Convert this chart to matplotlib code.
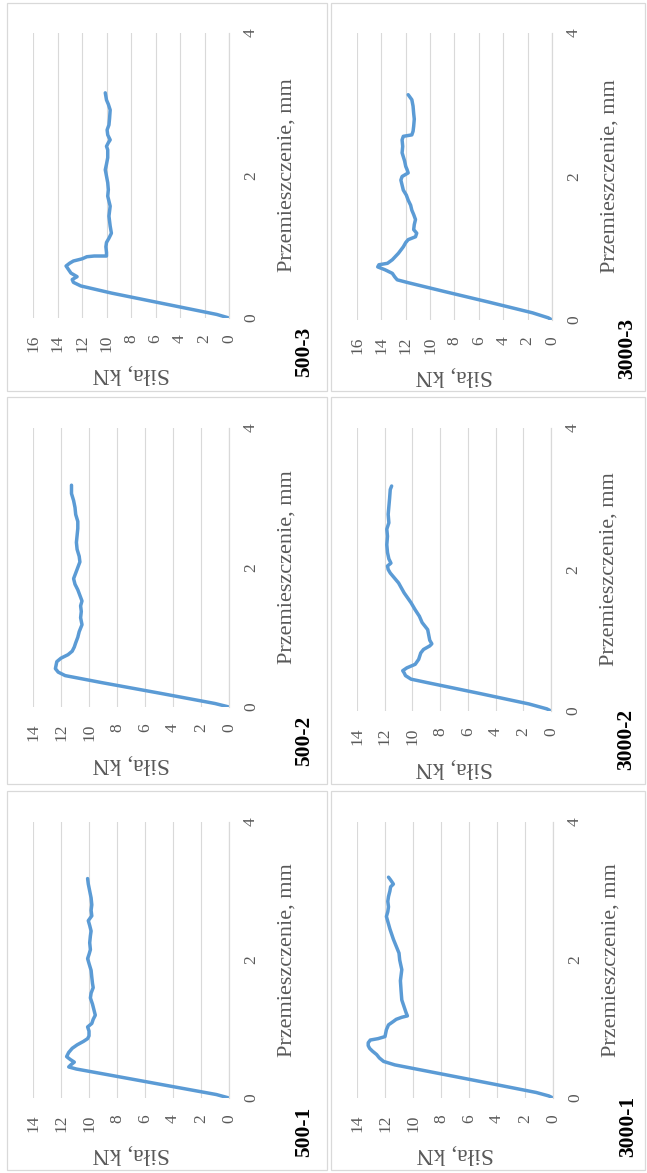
import matplotlib
matplotlib.use("Agg")
import matplotlib.pyplot as plt
from matplotlib.patches import Rectangle

plt.rcParams["font.family"] = ["Liberation Serif", "DejaVu Serif"]

W, H = 647, 1173

# sample names
names = ["500-1", "500-2", "500-3", "3000-1", "3000-2", "3000-3"]
force_max = [14, 14, 16, 14, 14, 16]

# displacement (mm) and force (kN)
disp_500_1 = [0, 0.05, 0.15, 0.25, 0.35, 0.42, 0.45, 0.48, 0.52, 0.56, 0.6, 0.66, 0.72, 0.77, 0.82, 0.86,
              0.9, 0.97, 1.03, 1.08, 1.14, 1.2, 1.28, 1.36, 1.45, 1.52, 1.6, 1.66, 1.75, 1.85, 1.95, 2.02,
              2.08, 2.15, 2.25, 2.35, 2.42, 2.5, 2.57, 2.64, 2.72, 2.8, 2.9, 3.0, 3.1, 3.18]
force_500_1 = [0, 0.9, 3.6, 6.3, 9.0, 10.9, 11.45, 11.3, 11.05, 11.35, 11.6, 11.45, 11.2, 10.85, 10.4, 10.1,
               10.0, 10.0, 10.1, 9.8, 9.7, 9.55, 9.65, 9.75, 9.9, 9.85, 9.7, 9.75, 9.8, 9.85, 10.0, 10.1,
               10.0, 9.9, 9.95, 9.9, 9.85, 9.95, 10.05, 9.8, 9.85, 9.8, 9.85, 9.95, 10.05, 10.1]

disp_500_2 = [0, 0.05, 0.2, 0.35, 0.45, 0.5, 0.55, 0.6, 0.65, 0.7, 0.75, 0.8, 0.86, 0.92, 1.0, 1.08, 1.18,
              1.28, 1.37, 1.45, 1.52, 1.6, 1.68, 1.76, 1.84, 1.92, 2.0, 2.08, 2.16, 2.26, 2.36, 2.46, 2.56,
              2.66, 2.76, 2.86, 2.96, 3.06, 3.18]
force_500_2 = [0, 1.0, 5.0, 9.1, 11.7, 12.2, 12.4, 12.35, 12.3, 12.0, 11.5, 11.2, 11.05, 10.95, 10.8, 10.7,
               10.5, 10.6, 10.55, 10.6, 10.5, 10.65, 10.8, 11.0, 11.1, 10.95, 10.8, 10.65, 10.7, 10.85, 10.9,
               10.85, 10.8, 10.8, 10.95, 11.0, 11.1, 11.25, 11.25]

disp_500_3 = [0, 0.05, 0.2, 0.35, 0.45, 0.5, 0.54, 0.58, 0.63, 0.68, 0.73, 0.77, 0.8, 0.83, 0.86, 0.87,
              0.87, 0.92, 1.0, 1.06, 1.12, 1.19, 1.29, 1.36, 1.43, 1.5, 1.57, 1.64, 1.71, 1.8, 1.9, 1.99,
              2.08, 2.16, 2.25, 2.36, 2.41, 2.46, 2.5, 2.57, 2.64, 2.71, 2.8, 2.92, 3.0, 3.06, 3.16]
force_500_3 = [0, 1.0, 5.3, 9.6, 12.1, 12.7, 12.8, 12.4, 12.9, 13.1, 13.3, 13.0, 12.7, 12.0, 11.6, 11.0,
               10.0, 10.0, 10.05, 10.0, 9.8, 9.6, 9.7, 9.75, 9.8, 9.75, 9.7, 9.8, 9.9, 9.85, 9.9, 10.0,
               10.1, 10.0, 9.9, 9.9, 10.0, 9.85, 9.7, 9.9, 9.95, 9.8, 9.75, 9.7, 9.85, 10.0, 10.1]

disp_3000_1 = [0, 0.03, 0.08, 0.2, 0.35, 0.48, 0.53, 0.58, 0.63, 0.68, 0.72, 0.76, 0.8, 0.84, 0.86, 0.89,
               0.94, 0.99, 1.06, 1.11, 1.14, 1.17, 1.19, 1.24, 1.3, 1.42, 1.55, 1.7, 1.86, 2.0, 2.1, 2.2,
               2.3, 2.45, 2.63, 2.7, 2.77, 2.85, 2.92, 3.0, 3.06, 3.1, 3.16, 3.2]
force_3000_1 = [0, 0.3, 1.2, 4.2, 8.0, 11.3, 12.1, 12.4, 12.6, 12.9, 13.1, 13.2, 13.2, 13.05, 12.5, 12.0,
                11.95, 11.9, 11.75, 11.4, 11.2, 10.8, 10.4, 10.5, 10.6, 10.8, 10.85, 10.9, 10.8, 10.95, 11.0,
                11.2, 11.4, 11.65, 11.9, 11.8, 11.75, 11.8, 11.75, 11.65, 11.6, 11.4, 11.6, 11.75]

disp_3000_2 = [0, 0.03, 0.1, 0.25, 0.4, 0.45, 0.5, 0.54, 0.57, 0.61, 0.66, 0.73, 0.82, 0.87, 0.92, 0.95,
               1.0, 1.05, 1.15, 1.25, 1.34, 1.43, 1.53, 1.6, 1.67, 1.74, 1.81, 1.88, 1.95, 2.0, 2.05, 2.09,
               2.15, 2.24, 2.35, 2.47, 2.57, 2.66, 2.78, 2.89, 3.0, 3.13, 3.18]
force_3000_2 = [0, 0.3, 1.6, 5.2, 8.9, 10.1, 10.5, 10.6, 10.7, 10.4, 9.8, 9.55, 9.4, 9.2, 8.75, 8.6, 8.75,
                8.8, 8.9, 9.3, 9.5, 9.8, 10.1, 10.35, 10.6, 10.8, 11.0, 11.3, 11.6, 11.75, 11.8, 11.55, 11.7,
                11.8, 11.85, 11.8, 11.85, 11.7, 11.75, 11.7, 11.65, 11.6, 11.5]

disp_3000_3 = [0, 0.03, 0.1, 0.25, 0.4, 0.52, 0.56, 0.6, 0.65, 0.7, 0.74, 0.77, 0.79, 0.84, 0.93, 1.02,
               1.08, 1.12, 1.16, 1.21, 1.26, 1.33, 1.4, 1.47, 1.53, 1.6, 1.67, 1.74, 1.81, 1.88, 1.95, 2.0,
               2.05, 2.1, 2.14, 2.22, 2.33, 2.42, 2.51, 2.56, 2.58, 2.63, 2.7, 2.8, 2.88, 2.98, 3.07, 3.14]
force_3000_3 = [0, 0.3, 1.6, 5.2, 8.9, 11.8, 12.7, 12.9, 13.1, 13.7, 14.3, 14.2, 13.5, 13.1, 12.6, 12.2,
                12.0, 11.8, 11.2, 11.1, 11.35, 11.3, 11.2, 11.35, 11.5, 11.6, 11.8, 11.95, 12.2, 12.3, 12.4,
                12.3, 11.8, 11.9, 12.0, 12.1, 12.3, 12.25, 12.3, 12.2, 11.5, 11.4, 11.35, 11.3, 11.35, 11.4,
                11.5, 11.8]

disp_ticks = [0, 2, 4]

disps = [disp_500_1, disp_500_2, disp_500_3, disp_3000_1, disp_3000_2, disp_3000_3]
forces = [force_500_1, force_500_2, force_500_3, force_3000_1, force_3000_2, force_3000_3]

# layout in pixels (x0, y0, x1, y1) measured from the top-left corner, page is turned on its side
axes_px = [(33, 822, 229, 1098), (33, 428, 229, 707), (33, 33, 229, 318),
           (357, 822, 553, 1098), (357, 428, 551, 711), (357, 33, 552, 320)]
frame_px = [(7, 791, 327, 1170), (7, 397, 327, 784), (7, 3, 327, 391),
            (331, 791, 645, 1170), (331, 397, 645, 784), (331, 3, 645, 391)]

BLUE = "#5B9BD5"
GRID = "#D9D9D9"
TICK = "#595959"
PT = 72 / 100  # points per pixel


def to_fig(box):
    x0, y0, x1, y1 = box
    return [x0 / W, (H - y1) / H, (x1 - x0) / W, (y1 - y0) / H]


fig = plt.figure(figsize=(W / 100, H / 100), dpi=100)

for box in frame_px:
    x, y, w, h = to_fig(box)
    fig.add_artist(Rectangle((x, y), w, h, transform=fig.transFigure,
                             fill=False, edgecolor=GRID, linewidth=0.9))

for i in range(len(names)):
    ax = fig.add_axes(to_fig(axes_px[i]))
    ax.plot(forces[i], disps[i], color=BLUE, linewidth=2.5, solid_capstyle="round")
    ax.set_xlim(force_max[i], 0)
    ax.set_ylim(0, 4)
    ax.set_xticks(range(0, force_max[i] + 1, 2))
    ax.set_yticks(disp_ticks)
    ax.yaxis.tick_right()
    ax.grid(axis="x", color=GRID, linewidth=0.8)
    ax.set_axisbelow(True)
    for side in ["left", "top", "bottom"]:
        ax.spines[side].set_visible(False)
    ax.spines["right"].set_color(GRID)
    ax.spines["right"].set_linewidth(0.9)
    ax.tick_params(axis="both", length=0, labelsize=12.5, labelcolor=TICK)
    ax.tick_params(axis="x", pad=12, labelrotation=90)
    ax.tick_params(axis="y", pad=10, labelrotation=90)
    for lab in ax.get_yticklabels():
        lab.set_va("center")

    ax.annotate("Przemieszczenie, mm", xy=(1, 0.5), xycoords="axes fraction",
                xytext=(58 * PT, 0), textcoords="offset points",
                rotation=90, ha="center", va="center", fontsize=16, color=TICK)
    ax.annotate("Siła, kN", xy=(0.5, 0), xycoords="axes fraction",
                xytext=(0, -56 * PT), textcoords="offset points",
                rotation=180, ha="center", va="center", fontsize=17, color=TICK)
    ax.annotate(names[i], xy=(1, 0), xycoords="axes fraction",
                xytext=(75 * PT, -59 * PT), textcoords="offset points",
                rotation=90, ha="center", va="bottom", fontsize=15.5,
                fontweight="bold", color="black")

fig.savefig("out.png", dpi=100)
